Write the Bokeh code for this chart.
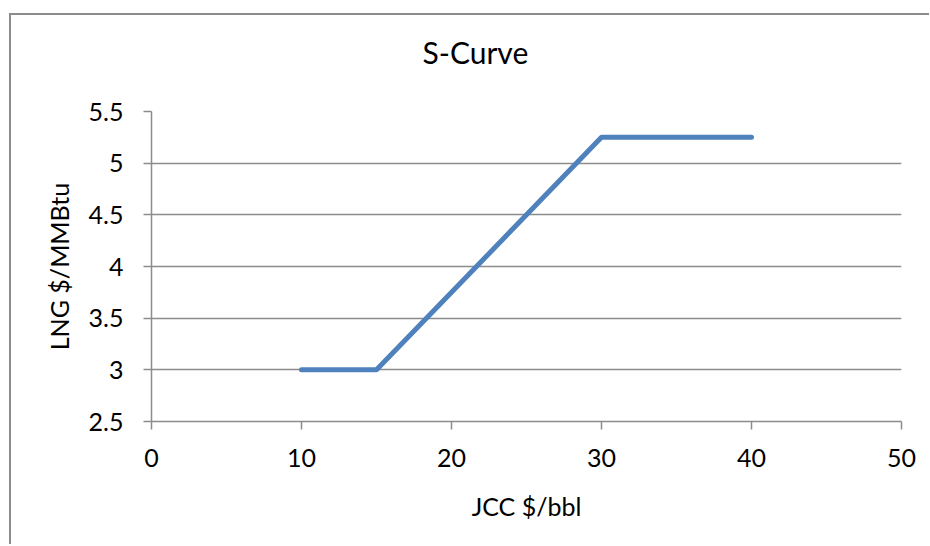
from bokeh.plotting import figure
from bokeh.models import Range1d, FixedTicker, Title
from bokeh.embed import file_html
from bokeh.resources import INLINE

# data
jcc = [10, 15, 30, 40]
lng = [3, 3, 5.25, 5.25]
x_ticks = [0, 10, 20, 30, 40, 50]
y_ticks = [2.5, 3, 3.5, 4, 4.5, 5, 5.5]
title_text = "S-Curve"

FONT = "Lato"
GRAY = "#8c8c8c"

p = figure(width=920, height=531, output_backend="svg", toolbar_location=None,
           x_range=Range1d(0, 50), y_range=Range1d(2.5, 5.5),
           min_border_left=140, min_border_right=30, min_border_top=20, min_border_bottom=125)
p.title = None
p.styles = {"margin-left": "9px", "margin-top": "13px",
            "border-left": f"2px solid {GRAY}", "border-top": f"2px solid {GRAY}"}
p.outline_line_color = None
p.background_fill_color = "white"
p.border_fill_color = "white"

# spacer between plot area and title, then the title itself (centred on the whole chart)
p.add_layout(Title(text=" ", text_font=FONT, text_font_size="20px", standoff=0), "above")
p.add_layout(Title(text=title_text, align="left", offset=271, text_font=FONT,
                   text_font_size="30px", text_font_style="normal", text_color="black",
                   standoff=32), "above")

p.line(jcc, lng, line_color="#4F81BD", line_width=5, line_cap="round", line_join="round")

p.xaxis.ticker = FixedTicker(ticks=x_ticks)
p.yaxis.ticker = FixedTicker(ticks=y_ticks)
p.xaxis.axis_label = "JCC $/bbl"
p.yaxis.axis_label = "LNG $/MMBtu"
for ax in (p.xaxis, p.yaxis):
    ax.axis_line_color = GRAY
    ax.axis_line_width = 1.5
    ax.major_tick_line_color = GRAY
    ax.major_tick_line_width = 1.5
    ax.major_tick_out = 8
    ax.major_tick_in = 0
    ax.minor_tick_line_color = None
    ax.major_label_text_font = FONT
    ax.major_label_text_font_size = "25px"
    ax.major_label_text_color = "black"
    ax.axis_label_text_font = FONT
    ax.axis_label_text_font_size = "25px"
    ax.axis_label_text_font_style = "normal"
    ax.axis_label_text_color = "black"
p.xaxis.major_label_standoff = 19
p.xaxis.axis_label_standoff = 21
p.yaxis.major_label_standoff = 20
p.yaxis.axis_label_standoff = 12

p.xgrid.grid_line_color = None
p.ygrid.grid_line_color = GRAY
p.ygrid.grid_line_width = 1.5

open("out.html", "w").write(file_html(p, INLINE))
